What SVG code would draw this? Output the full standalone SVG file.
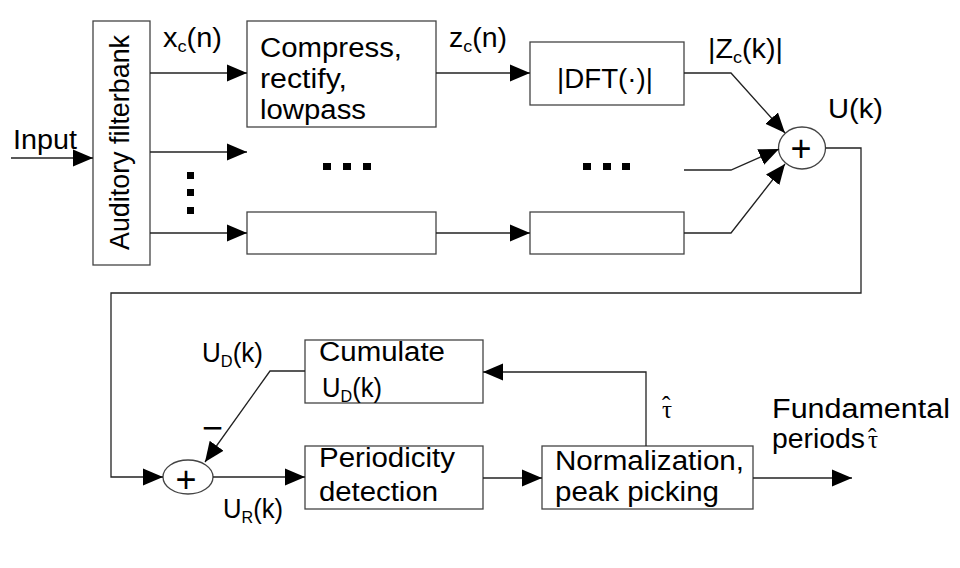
<svg xmlns="http://www.w3.org/2000/svg" width="960" height="568" viewBox="0 0 960 568">
<style>
.t{font-family:"Liberation Sans",Arial,sans-serif;font-size:27px;fill:#000}
.s{font-size:17px}
.p{font-family:"Liberation Sans",Arial,sans-serif;font-size:36px;fill:#000}
.g{font-family:"Liberation Serif","Times New Roman",serif;font-size:25px;fill:#000}
.box{fill:#fff;stroke:#444;stroke-width:1.3}
.ln{fill:none;stroke:#222;stroke-width:1.3}
.a{marker-end:url(#ah)}
.dot{fill:#000}
</style>
<defs>
<marker id="ah" markerUnits="userSpaceOnUse" markerWidth="20" markerHeight="18" refX="20" refY="8.5" orient="auto" viewBox="0 0 20 17">
<path d="M0,0 L20,8.5 L0,17 z" fill="#000"/>
</marker>
</defs>
<rect width="960" height="568" fill="#fff"/>

<g id="input-label"><text class="t" x="13" y="149" textLength="64" lengthAdjust="spacingAndGlyphs">Input</text></g>

<g id="filterbank">
<rect class="box" x="93" y="21" width="57" height="244"/>
<text class="t" transform="translate(129,250) rotate(-90)" textLength="215" lengthAdjust="spacingAndGlyphs">Auditory filterbank</text>
</g>

<g id="compress">
<rect class="box" x="247" y="21" width="189" height="106"/>
<text class="t" x="260" y="57" textLength="142" lengthAdjust="spacingAndGlyphs">Compress,</text>
<text class="t" x="260" y="88" textLength="87" lengthAdjust="spacingAndGlyphs">rectify,</text>
<text class="t" x="260" y="119" textLength="106" lengthAdjust="spacingAndGlyphs">lowpass</text>
</g>

<g id="dft">
<rect class="box" x="530" y="42" width="154" height="63"/>
<text class="t" x="557" y="88" textLength="96" lengthAdjust="spacingAndGlyphs">|DFT(·)|</text>
</g>

<g id="compress-c">
<rect class="box" x="247" y="212" width="189" height="42"/>
</g>
<g id="dft-c">
<rect class="box" x="530" y="212" width="154" height="42"/>
</g>

<g id="sum1">
<ellipse class="box" cx="802" cy="148" rx="23.5" ry="21"/>
<text class="p" x="801" y="161" text-anchor="middle">+</text>
</g>

<g id="cumulate">
<rect class="box" x="305" y="340" width="178" height="63"/>
<text class="t" x="319" y="361" textLength="126" lengthAdjust="spacingAndGlyphs">Cumulate</text>
<text class="t" x="322" y="397" textLength="60" lengthAdjust="spacingAndGlyphs">U<tspan class="s" dy="5">D</tspan><tspan dy="-5">(k)</tspan></text>
</g>

<g id="periodicity">
<rect class="box" x="305" y="446" width="178" height="63"/>
<text class="t" x="319" y="467" textLength="136" lengthAdjust="spacingAndGlyphs">Periodicity</text>
<text class="t" x="319" y="501" textLength="119" lengthAdjust="spacingAndGlyphs">detection</text>
</g>

<g id="normalization">
<rect class="box" x="542" y="446" width="211" height="63"/>
<text class="t" x="555" y="470" textLength="189" lengthAdjust="spacingAndGlyphs">Normalization,</text>
<text class="t" x="555" y="501" textLength="164" lengthAdjust="spacingAndGlyphs">peak picking</text>
</g>

<g id="sum2">
<ellipse class="box" cx="188" cy="477" rx="25" ry="17"/>
<text class="p" x="186" y="492" text-anchor="middle">+</text>
</g>

<g id="ellipses">
<rect class="dot" x="187" y="172" width="7" height="7"/>
<rect class="dot" x="187" y="189" width="7" height="7"/>
<rect class="dot" x="187" y="207" width="7" height="7"/>
<rect class="dot" x="323" y="163" width="8" height="7"/>
<rect class="dot" x="343" y="163" width="8" height="7"/>
<rect class="dot" x="363" y="163" width="8" height="7"/>
<rect class="dot" x="583" y="163" width="8" height="7"/>
<rect class="dot" x="603" y="163" width="8" height="7"/>
<rect class="dot" x="622" y="163" width="8" height="7"/>
</g>

<g id="connectors">
<path class="ln a" d="M11,158 H93"/>
<path class="ln a" d="M150,73 H247"/>
<path class="ln a" d="M150,152 H247"/>
<path class="ln a" d="M150,233 H247"/>
<path class="ln a" d="M436,73 H530"/>
<path class="ln a" d="M436,233 H530"/>
<path class="ln a" d="M684,73 H731 L785,133"/>
<path class="ln a" d="M684,170 H731 L779,149"/>
<path class="ln a" d="M684,233 H731 L785,164"/>
<path class="ln a" d="M825.5,148 H861 V293 H111 V477 H163"/>
<path class="ln a" d="M213,477 H305"/>
<path class="ln a" d="M305,371 H270 L205,462"/>
<path class="ln a" d="M483,478 H542"/>
<path class="ln a" d="M646,446 V372 H483"/>
<path class="ln a" d="M753,478 H852"/>
</g>

<g id="labels">
<text class="t" x="163" y="47" textLength="59" lengthAdjust="spacingAndGlyphs">x<tspan class="s" dy="5">c</tspan><tspan dy="-5">(n)</tspan></text>
<text class="t" x="449" y="47" textLength="58" lengthAdjust="spacingAndGlyphs">z<tspan class="s" dy="5">c</tspan><tspan dy="-5">(n)</tspan></text>
<text class="t" x="708" y="58" textLength="75" lengthAdjust="spacingAndGlyphs">|Z<tspan class="s" dy="5">c</tspan><tspan dy="-5">(k)|</tspan></text>
<text class="t" x="828" y="118" textLength="55" lengthAdjust="spacingAndGlyphs">U(k)</text>
<text class="t" x="202" y="362" textLength="61" lengthAdjust="spacingAndGlyphs">U<tspan class="s" dy="5">D</tspan><tspan dy="-5">(k)</tspan></text>
<text class="t" x="223" y="518" textLength="60" lengthAdjust="spacingAndGlyphs">U<tspan class="s" dy="5">R</tspan><tspan dy="-5">(k)</tspan></text>
<text class="p" x="202" y="440">−</text>
<text class="g" x="662" y="418">τ<tspan x="662" y="414">ˆ</tspan></text>
<text class="t" x="772" y="418" textLength="178" lengthAdjust="spacingAndGlyphs">Fundamental</text>
<text class="t" x="772" y="448" textLength="93" lengthAdjust="spacingAndGlyphs">periods</text>
<text class="g" x="868" y="448">τ<tspan x="868" y="446">ˆ</tspan></text>
</g>
</svg>
